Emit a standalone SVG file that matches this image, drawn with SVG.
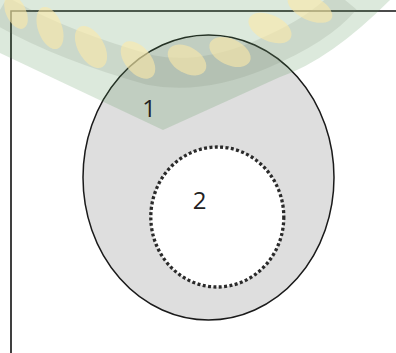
<svg xmlns="http://www.w3.org/2000/svg" width="396" height="353" viewBox="0 0 396 353">
<style>
.frame{fill:none;stroke:#111;stroke-width:1.6}
.outer{fill:#dedede;stroke:#1a1a1a;stroke-width:1.5}
.inner{fill:#fff;stroke:#2a2a2a;stroke-width:3.3;stroke-dasharray:3 2.4}
.lbl{font-family:"Open Sans","Noto Sans","Liberation Sans",sans-serif;font-size:24px;fill:#222;text-anchor:middle}
.leaf{fill:#fbe9a8;opacity:0.6}
</style>
<rect width="396" height="353" fill="#fff"/>
<path class="frame" d="M11,353 V11 H396"/>
<g id="node1">
<ellipse class="outer" cx="208.5" cy="177.5" rx="125.5" ry="142.5"/>
</g>
<g id="node2">
<ellipse class="inner" cx="217.3" cy="217" rx="66.5" ry="70"/>
</g>
<g id="connectors"></g>
<g id="watermark">
<path d="M0,0 H390 Q330,60 280,77 L163,130 L0,53 Z" fill="#4f8f4f" opacity="0.2"/>
<path d="M0,10 Q60,45 150,70 Q200,80 260,55 Q320,30 345,0" fill="none" stroke="#6d7a68" stroke-width="30" opacity="0.15"/>
<ellipse class="leaf" cx="16" cy="12" rx="10" ry="18" transform="rotate(-25 16 12)"/>
<ellipse class="leaf" cx="50" cy="28" rx="12" ry="22" transform="rotate(-20 50 28)"/>
<ellipse class="leaf" cx="91" cy="47" rx="13" ry="23" transform="rotate(-30 91 47)"/>
<ellipse class="leaf" cx="138" cy="60" rx="13" ry="22" transform="rotate(-40 138 60)"/>
<ellipse class="leaf" cx="187" cy="60" rx="13" ry="21" transform="rotate(-60 187 60)"/>
<ellipse class="leaf" cx="230" cy="52" rx="13" ry="22" transform="rotate(-65 230 52)"/>
<ellipse class="leaf" cx="270" cy="28" rx="13" ry="23" transform="rotate(-65 270 28)"/>
<ellipse class="leaf" cx="310" cy="8" rx="12" ry="24" transform="rotate(-65 310 8)"/>
</g>
<text class="lbl" x="149" y="117">1</text>
<text class="lbl" x="199.5" y="209">2</text>
</svg>
